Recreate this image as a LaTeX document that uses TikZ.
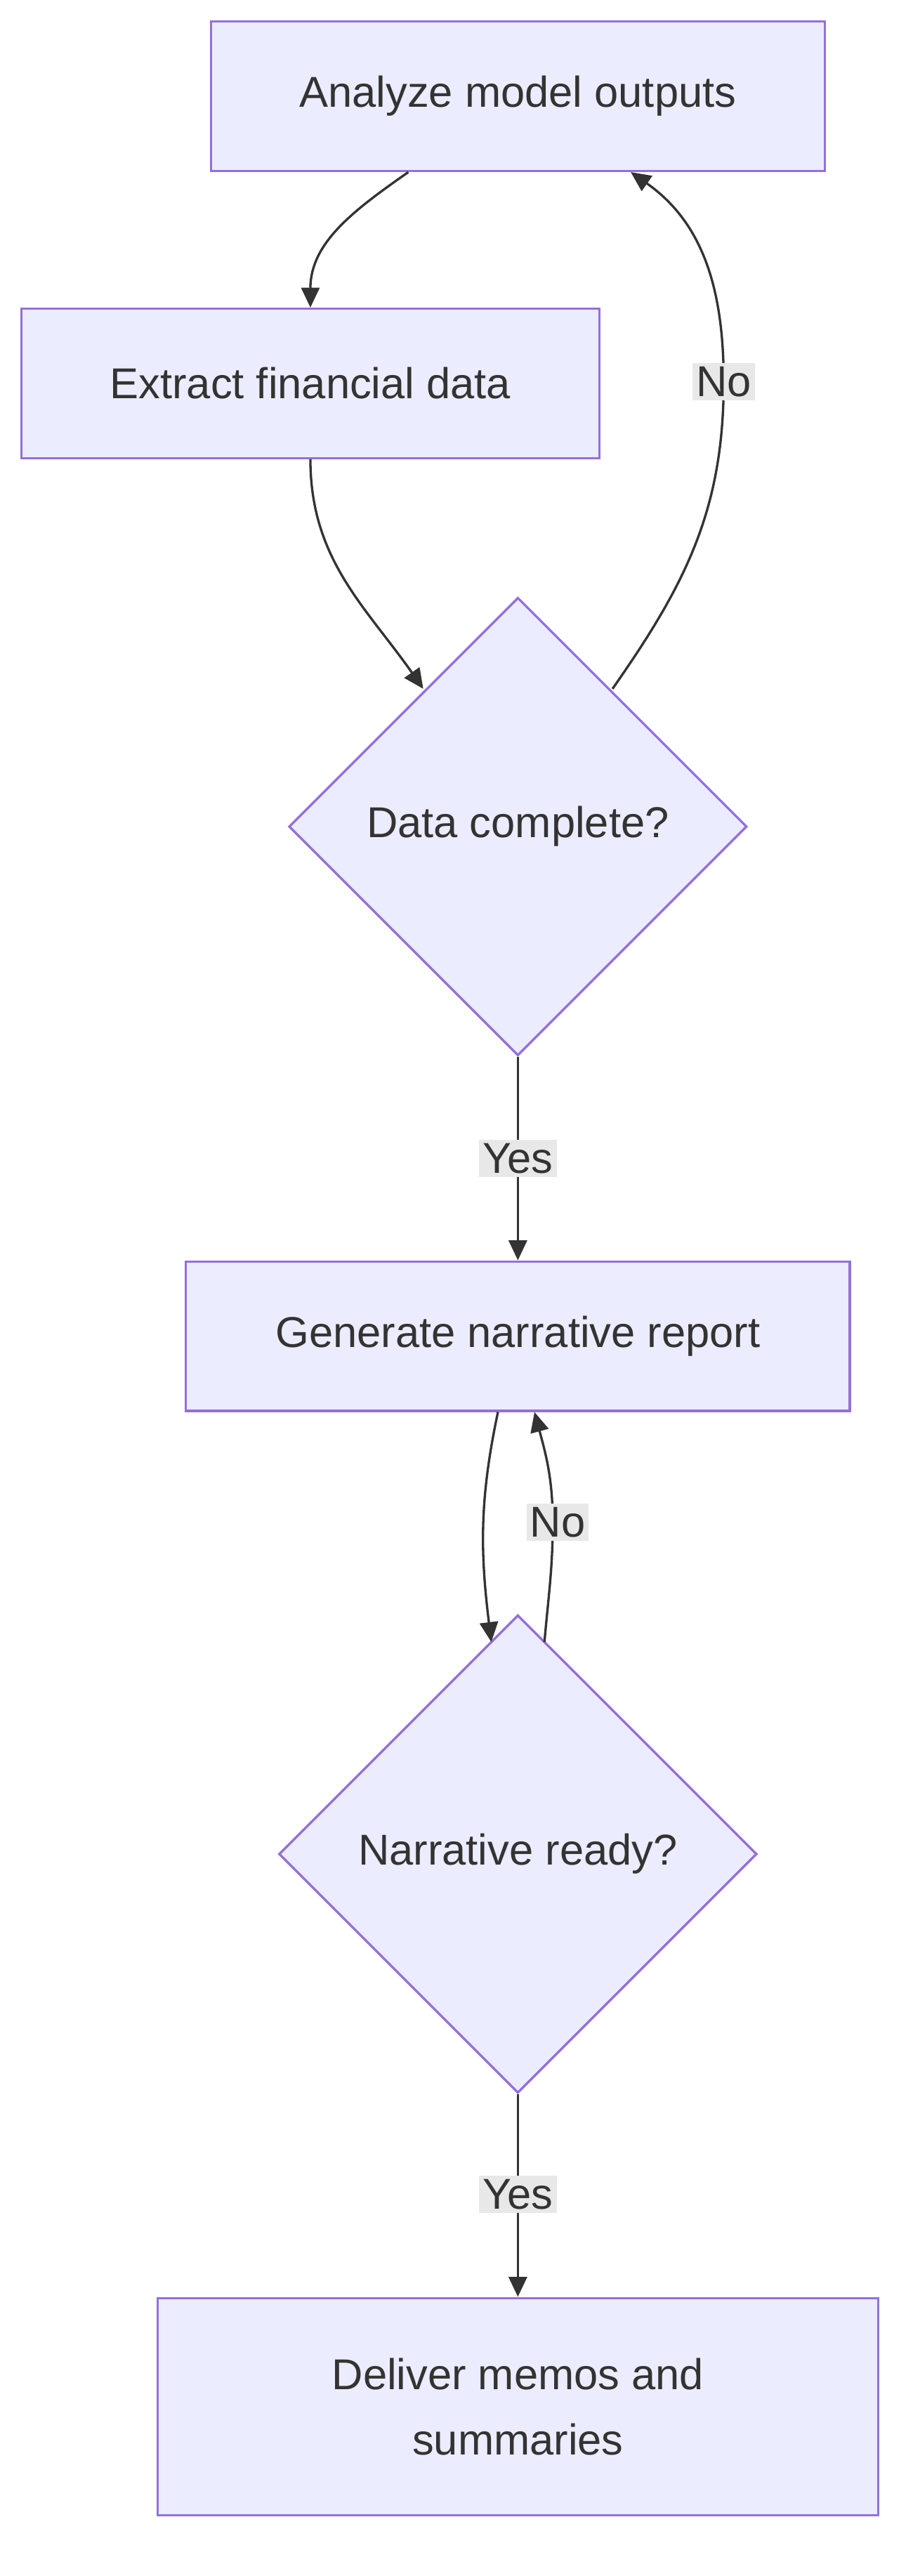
\documentclass[tikz,border=0pt]{standalone}
\usepackage{fontspec}
\setmainfont{Liberation Sans}
\usetikzlibrary{shapes.geometric,arrows.meta}
\definecolor{boxfill}{HTML}{ECECFF}
\definecolor{boxline}{HTML}{9370DB}
\definecolor{ink}{HTML}{333333}
\definecolor{tagfill}{HTML}{E8E8E8}
\tikzset{
  stage/.style={draw=boxline, fill=boxfill, line width=2pt, text=ink,
    font=\fontsize{37}{56}\selectfont, align=center, inner sep=0pt},
  check/.style={stage, diamond, aspect=1},
  tag/.style={fill=tagfill, text=ink, font=\fontsize{37}{44}\selectfont,
    inner sep=3pt},
  flow/.style={draw=ink, line width=2pt, -{Triangle[length=0.6cm,width=0.55cm]}}
}
\begin{document}
\begin{tikzpicture}[x=0.05cm, y=-0.05cm]
  \useasboundingbox (0,0) rectangle (550,1552);

  %% Stages and checks
  \node[stage, minimum width=18.5cm, minimum height=4.5cm] (analyze) at (312,58) {Analyze model outputs};
  \node[stage, minimum width=17.4cm, minimum height=4.5cm] (extract) at (187,231) {Extract financial data};
  \node[check, minimum size=13.8cm] (complete) at (312,498) {Data complete?};
  \node[stage, minimum width=20cm, minimum height=4.5cm] (generate) at (312,805) {Generate narrative report};
  \node[check, minimum size=14.4cm] (ready) at (312,1117) {Narrative ready?};
  \node[stage, minimum width=21.7cm, minimum height=6.55cm] (deliver) at (312,1450) {Deliver memos and\\summaries};

  %% Connectors
  \draw[flow] ([xshift=-3.3cm]analyze.south) to[out=-145, in=90] (extract.north);
  \draw[flow] (extract.south) to[out=-90, in=125] ([shift={(-2.85cm,4.15cm)}]complete.center);
  \coordinate (nobend1) at (436,230);
  \draw[flow] ([shift={(2.85cm,4.15cm)}]complete.center) to[out=55, in=-90] (nobend1)
    to[out=90, in=-35] ([xshift=3.4cm]analyze.south);
  \draw[flow] (complete.south) -- (generate.north);
  \draw[flow] ([xshift=-0.6cm]generate.south) to[out=-102, in=97] ([shift={(-0.8cm,-0.85cm)}]ready.north);
  \coordinate (nobend2) at (333,917);
  \draw[flow] ([shift={(0.8cm,-0.85cm)}]ready.north) to[out=85, in=-90] (nobend2)
    to[out=90, in=-75] ([xshift=0.5cm]generate.south);
  \draw[flow] (ready.south) -- (deliver.north);

  %% Edge labels
  \node[tag] (no1) at (nobend1) {No};
  \node[tag] (yes1) at (312,698) {Yes};
  \node[tag] (no2) at (336,917) {No};
  \node[tag] (yes2) at (312,1322) {Yes};
\end{tikzpicture}
\end{document}
